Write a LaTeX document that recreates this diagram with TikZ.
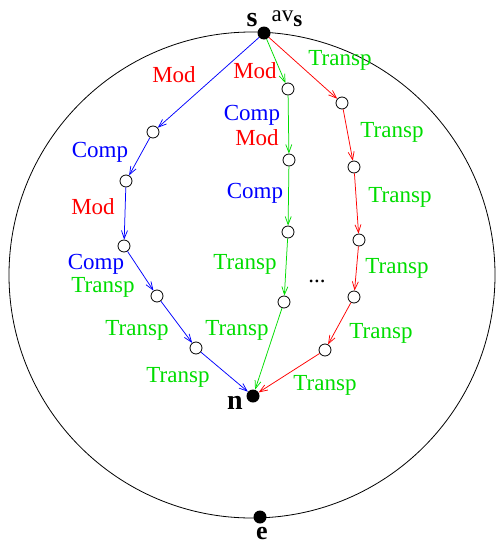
\documentclass[tikz,border=0pt]{standalone}
\usepackage{fontspec}
\setmainfont{Liberation Serif}
\usetikzlibrary{arrows.meta}
\definecolor{pthr}{HTML}{FF0000}
\definecolor{pthg}{HTML}{00DD00}
\definecolor{pthb}{HTML}{0000FF}
\tikzset{
  ar/.style={-{Straight Barb[length=8pt,width=6pt]},line width=0.75pt},
  st/.style={circle,draw,line width=0.8pt,fill=white,minimum size=12pt,inner sep=0pt},
  dot/.style={circle,fill=black,minimum size=13pt,inner sep=0pt},
  lb/.style={font=\fontsize{23}{25}\selectfont,inner sep=0pt},
  nm/.style={font=\fontsize{28}{30}\selectfont\bfseries,inner sep=0pt}
}
\begin{document}
\begin{tikzpicture}[x=1pt,y=-1pt]
\useasboundingbox (0,0) rectangle (496,544);
\draw[line width=0.8pt] (252,275) circle (243);
% end points
\node[dot] (s) at (264,33) {};
\node[dot] (n) at (253,396) {};
\node[dot] (e) at (260,517) {};
\node[nm] (sl) at (252,20) {s};
\node[lb] (avs) at (287,19) {av\raisebox{-0.45ex}{\textbf{s}}};
\node[nm] (nl) at (235,403) {n};
\node[nm,font=\fontsize{26}{28}\selectfont\bfseries,anchor=north] (el) at (262,527) {e};
% states
\foreach \nm/\px/\py in {b1/153/132,b2/126/181,b3/124/246,b4/157/296,b5/196/348,
  g1/288/89,g2/289/160,g3/288/232,g4/284/302,
  r1/342/103,r2/354/167,r3/359/240,r4/354/297,r5/325/350}
  \node[st] (\nm) at (\px,\py) {};
% connectors
\foreach \a/\b in {s/b1,b1/b2,b2/b3,b3/b4,b4/b5,b5/n}
  \draw[ar,pthb] (\a) -- (\b);
\foreach \a/\b in {s/g1,g1/g2,g2/g3,g3/g4,g4/n}
  \draw[ar,pthg] (\a) -- (\b);
\foreach \a/\b in {s/r1,r1/r2,r2/r3,r3/r4,r4/r5,r5/n}
  \draw[ar,pthr] (\a) -- (\b);
% labels
\node[lb,pthr] (m1) at (174,75) {Mod};
\node[lb,pthr] (m2) at (255,71) {Mod};
\node[lb,pthg] (t1) at (340,60) {Transp};
\node[lb,pthb] (c1) at (100,152) {Comp};
\node[lb,pthr] (m3) at (93,207) {Mod};
\node[lb,pthb] (c2) at (96,264) {Comp};
\node[lb,pthg] (t2) at (103,287) {Transp};
\node[lb,pthb] (c3) at (252,115) {Comp};
\node[lb,pthr] (m4) at (257,138) {Mod};
\node[lb,pthb] (c4) at (255,193) {Comp};
\node[lb,pthg] (t3) at (245,264) {Transp};
\node[lb] (dots) at (317,281) {...};
\node[lb,pthg] (t4) at (392,132) {Transp};
\node[lb,pthg] (t5) at (400,197) {Transp};
\node[lb,pthg] (t6) at (397,268) {Transp};
\node[lb,pthg] (t7) at (381,333) {Transp};
\node[lb,pthg] (t8) at (137,330) {Transp};
\node[lb,pthg] (t9) at (237,330) {Transp};
\node[lb,pthg] (t10) at (178,377) {Transp};
\node[lb,pthg] (t11) at (325,385) {Transp};
\end{tikzpicture}
\end{document}
